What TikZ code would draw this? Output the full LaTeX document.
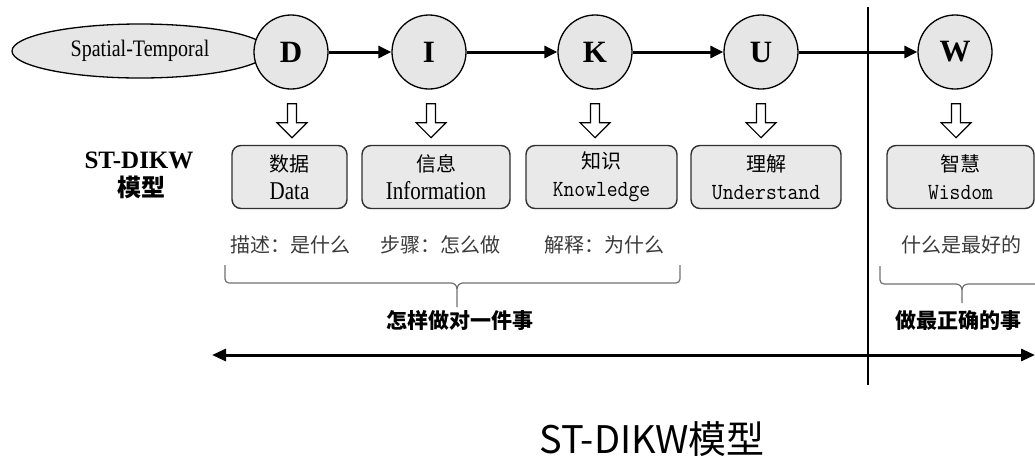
\documentclass[tikz,border=0pt]{standalone}
\usepackage{fontspec}
\setmainfont{Liberation Serif}
\newfontfamily\cjk{Noto Sans CJK SC}
\usetikzlibrary{arrows.meta,shapes.geometric,calc}
\newcommand\fsz[2]{\fontsize{#1}{#2}\selectfont}
\newcommand\tallser[1]{\scalebox{1}[1.22]{#1}}
\newcommand\tallmono[1]{\scalebox{1}[1.1]{\ttfamily #1}}
\definecolor{cfill}{HTML}{E6E6E6}
\definecolor{bfill}{HTML}{E9E9E9}
\definecolor{bline}{HTML}{303030}
\definecolor{dtext}{HTML}{3A3A3A}
\definecolor{brc}{HTML}{707070}
\tikzset{
  circ/.style={circle,draw=black,line width=1.3pt,fill=cfill,minimum size=74pt,inner sep=0pt,font=\fsz{31}{31}\bfseries},
  conn/.style={line width=3pt,-{Triangle[length=13pt,width=12pt]}},
  box/.style={draw=bline,line width=1.4pt,fill=bfill,rounded corners=9pt,minimum height=63pt,inner sep=0pt,align=center,font=\fsz{21}{28}},
  desc/.style={text=dtext,font=\cjk\fsz{20}{24},inner sep=0pt},
  brace/.style={draw=brc,line width=1.2pt},
  bl/.style={font=\cjk\bfseries\fsz{21}{24},inner sep=0pt},
  hollow/.pic={\draw[line width=1.2pt,fill=white,line join=miter]
     (-4.5,0) -- (4.5,0) -- (4.5,19) -- (15,19) -- (0,34) -- (-15,19) -- (-4.5,19) -- cycle;}
}
\begin{document}
\begin{tikzpicture}[x=1pt,y=-1pt]
\useasboundingbox (0,0) rectangle (1035,456);
% ellipse and circles
\node[ellipse,draw=black,line width=1.3pt,fill=cfill,minimum width=256pt,minimum height=54pt,inner sep=0pt,font=\fsz{20}{20}] (st) at (140,51) {\scalebox{1}[1.18]{Spatial-Temporal}};
\node[circ] (D) at (291,52) {D};
\node[circ] (I) at (429,52) {I};
\node[circ] (K) at (595,52) {K};
\node[circ] (U) at (761,52) {U};
\node[circ] (W) at (955,52) {W};
% vertical divider
\coordinate (vt) at (868,7);
\coordinate (vb) at (868,385);
\draw[line width=2.5pt] (vt) -- (vb);
% chain arrows
\draw[conn] (D) -- (I);
\draw[conn] (I) -- (K);
\draw[conn] (K) -- (U);
\draw[conn] (U) -- (W);
% hollow arrows
\pic at ($(D.south)+(1,14)$) {hollow};
\pic at ($(I.south)+(2,14)$) {hollow};
\pic at ($(K.south)+(0,14)$) {hollow};
\pic at ($(U.south)+(0,14)$) {hollow};
\pic at ($(W.south)+(1,14)$) {hollow};
% boxes
\node[box,minimum width=115pt] (bD) at (289.5,177) {{\cjk\fsz{20}{28}数据}\\\tallser{Data}};
\node[box,minimum width=148pt] (bI) at (436,177) {{\cjk\fsz{20}{28}信息}\\\tallser{Information}};
\node[box,minimum width=151pt] (bK) at (601.5,177) {{\cjk\fsz{20}{28}知识}\\{\fsz{21}{28}\tallmono{Knowledge}}};
\node[box,minimum width=150pt] (bU) at (766,177) {{\cjk\fsz{20}{28}理解}\\{\fsz{21}{28}\tallmono{Understand}}};
\node[box,minimum width=147pt] (bW) at (960.5,177) {{\cjk\fsz{20}{28}智慧}\\{\fsz{21}{28}\tallmono{Wisdom}}};
% side label
\node[font=\fsz{25}{25}\bfseries,inner sep=0pt] (lab1) at (139,160) {ST-DIKW};
\node[font=\cjk\bfseries\fsz{24}{24},inner sep=0pt] (lab2) at (141,187) {模型};
% descriptions
\node[desc] (dD) at (290,245) {描述：是什么};
\node[desc] (dI) at (440,245) {步骤：怎么做};
\node[desc] (dK) at (604,245) {解释：为什么};
\node[desc] (dW) at (961,245) {什么是最好的};
% left brace
\draw[brace] (225,265) -- (225,279) to[out=-90,in=180] (229,283) -- (451,283) to[out=0,in=90] (457,289) -- (457,307);
\draw[brace] (457,289) to[out=90,in=180] (463,283) -- (676,283) to[out=0,in=-90] (680,279) -- (680,265);
\node[bl] (t1) at (460,320) {怎样做对一件事};
% right brace
\draw[brace] (880,266) -- (880,280) to[out=-90,in=180] (884,284) -- (956,284) to[out=0,in=90] (962,290) -- (962,303);
\draw[brace] (962,290) to[out=90,in=180] (968,284) -- (1035,284);
\node[bl] (t2) at (958,321) {做最正确的事};
% double arrow
\coordinate (al) at (212,355);
\coordinate (ar) at (1035,355);
\draw[line width=3pt,{Triangle[length=14pt,width=12pt]}-{Triangle[length=14pt,width=12pt]}] (al) -- (ar);
% title
\node[font=\cjk\fsz{38}{38},inner sep=0pt] (title) at (652,439) {ST-DIKW模型};
\end{tikzpicture}
\end{document}
